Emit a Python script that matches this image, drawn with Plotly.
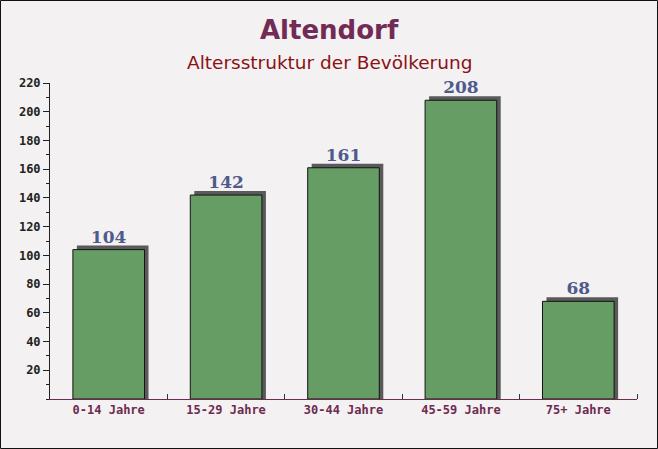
"""Altersstruktur bar chart for Altendorf."""
import plotly.graph_objects as go

AGE_GROUPS = ["0-14 Jahre", "15-29 Jahre", "30-44 Jahre", "45-59 Jahre", "75+ Jahre"]
RESIDENTS = [104, 142, 161, 208, 68]
Y_TICKS = [20, 40, 60, 80, 100, 120, 140, 160, 180, 200, 220]

BAR_COLOR = "#659d65"
SHADOW_COLOR = "#5a5a5a"
TITLE_COLOR = "#722a56"
SUBTITLE_COLOR = "#8a1216"
LABEL_COLOR = "#4f5a8c"
X_TICK_COLOR = "#6e2a50"

W, H = 658, 449
L, R, T, B = 50, 21, 83, 50
PW, PH = W - L - R, H - T - B
BAR_W = 0.61
px_x = 5 / PW           # one pixel in category units
px_y = 220 / PH         # one pixel in value units


def paper_y(pixel):
    """Pixel row from the top of the page -> paper y."""
    return 1 + (T - pixel) / PH


def paper_x(pixel):
    """Pixel column from the left of the page -> paper x."""
    return (pixel - L) / PW


fig = go.Figure()
# drop shadow, shifted right and up by a few pixels
fig.add_trace(go.Bar(
    x=AGE_GROUPS, y=[v + 4 * px_y for v in RESIDENTS],
    width=BAR_W, offset=-BAR_W / 2 + 4 * px_x,
    marker_color=SHADOW_COLOR, marker_line_width=0,
    hoverinfo="skip", showlegend=False,
))
fig.add_trace(go.Bar(
    x=AGE_GROUPS, y=RESIDENTS,
    width=BAR_W, offset=-BAR_W / 2,
    marker_color=BAR_COLOR, marker_line=dict(color="#141414", width=1),
    text=[str(v) for v in RESIDENTS], textposition="outside",
    textfont=dict(family="DejaVu Serif", size=17, color=LABEL_COLOR, weight="bold"),
    cliponaxis=False, showlegend=False,
    hovertemplate="<b>%{x}</b><br>%{y}<extra></extra>",
))

fig.update_layout(
    width=W, height=H,
    barmode="overlay",
    paper_bgcolor="#f3f1f1",
    plot_bgcolor="rgba(0,0,0,0)",
    margin=dict(l=L, r=R, t=T, b=B, autoexpand=False),
    annotations=[
        dict(text="<b>Altendorf</b>", x=paper_x(W / 2), y=paper_y(30),
             xref="paper", yref="paper", yanchor="middle", showarrow=False,
             font=dict(family="DejaVu Sans", size=26, color=TITLE_COLOR)),
        dict(text="Altersstruktur der Bevölkerung", x=paper_x(W / 2), y=paper_y(62),
             xref="paper", yref="paper", yanchor="middle", showarrow=False,
             font=dict(family="DejaVu Sans", size=18.5, color=SUBTITLE_COLOR)),
    ],
    shapes=[dict(type="rect", xref="paper", yref="paper",
                 x0=paper_x(0.5), x1=paper_x(W - 0.5),
                 y0=paper_y(H - 0.5), y1=paper_y(0.5),
                 line=dict(color="#111111", width=1))],
)

fig.update_xaxes(
    range=[-0.5, 4.5], showgrid=False, zeroline=False, automargin=False,
    showline=True, linecolor=X_TICK_COLOR, linewidth=1,
    ticks="", tickfont=dict(family="DejaVu Sans Mono", size=12,
                            color=X_TICK_COLOR, weight="bold"),
    minor=dict(ticks="inside", ticklen=5, tickcolor="#333333",
               tickmode="array", tickvals=[0.5, 1.5, 2.5, 3.5, 4.5]),
)
fig.update_yaxes(
    range=[0, 220], showgrid=False, zeroline=False, automargin=False,
    showline=True, linecolor="#222222", linewidth=1,
    tickmode="array", tickvals=Y_TICKS, ticks="outside", ticklen=6,
    tickcolor="#222222",
    tickfont=dict(family="DejaVu Sans Mono", size=12, color="#222222", weight="bold"),
    minor=dict(ticks="outside", ticklen=3, tickcolor="#222222", dtick=10, tick0=0),
)

# the page body has a default margin; remove it so the chart fills the window
fig.write_html("out.html", config={"displayModeBar": False},
               post_script="document.body.style.margin = '0';")
